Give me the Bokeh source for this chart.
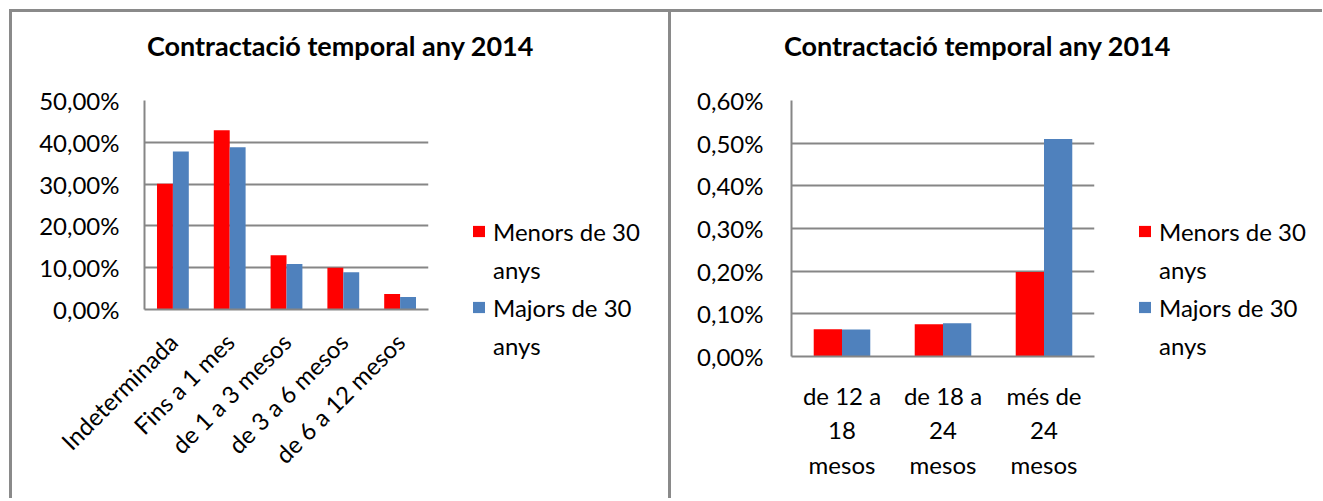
import math
from bokeh.plotting import figure
from bokeh.layouts import row, column
from bokeh.models import (ColumnDataSource, FactorRange, Range1d, Legend, LegendItem,
                          FixedTicker, Label)
from bokeh.transform import dodge
from bokeh.embed import file_html
from bokeh.resources import INLINE

TITLE = "Contractació temporal any 2014"
SERIES = ["Menors de 30", "Majors de 30"]
SERIES_2ND_LINE = "anys"

cats_left = ["Indeterminada", "Fins a 1 mes", "de 1 a 3 mesos", "de 3 a 6 mesos", "de 6 a 12 mesos"]
menors_left = [30.1, 42.9, 13.0, 10.0, 3.7]
majors_left = [37.8, 38.8, 10.9, 8.9, 3.0]
ticks_left = [0, 10, 20, 30, 40, 50]
tick_labels_left = ["0,00%", "10,00%", "20,00%", "30,00%", "40,00%", "50,00%"]

cats_right = ["de 12 a\n18\nmesos", "de 18 a\n24\nmesos", "més de\n24\nmesos"]
menors_right = [0.064, 0.0755, 0.198]
majors_right = [0.063, 0.078, 0.510]
ticks_right = [0, 0.1, 0.2, 0.3, 0.4, 0.5, 0.6]
tick_labels_right = ["0,00%", "0,10%", "0,20%", "0,30%", "0,40%", "0,50%", "0,60%"]

RED = "#FF0000"
BLUE = "#4F81BD"
GRAY = "#868686"
FONT = "Lato"
FS = "24px"


def blank_fig(w, h):
    p = figure(width=w, height=h, x_range=Range1d(0, 1), y_range=Range1d(0, 1),
               x_axis_type=None, y_axis_type=None, min_border=0,
               output_backend="svg", toolbar_location=None)
    p.outline_line_color = None
    p.grid.visible = False
    p.background_fill_color = "white"
    p.border_fill_color = "white"
    p.frame_align = False
    return p


def make_panel(cats, a, b, ticks, labels, w, chart_w, h_title, h_chart, fw, fh, mbl, mbt,
               title_x, rotate, xstandoff, ystandoff, leg_y):
    # title strip
    pt = blank_fig(w, h_title)
    pt.add_layout(Label(x=title_x, y=25, x_units="screen", y_units="screen", text=TITLE,
                        text_align="center", text_baseline="alphabetic",
                        text_font=FONT, text_font_size="27px", text_font_style="bold",
                        text_color="black"))

    # chart
    src = ColumnDataSource(dict(cat=cats, idx=list(range(len(cats))), a=a, b=b))
    p = figure(x_range=FactorRange(*cats), y_range=Range1d(ticks[0], ticks[-1]),
               frame_width=fw, frame_height=fh,
               min_border_left=mbl, min_border_right=chart_w - mbl - fw,
               min_border_top=mbt, min_border_bottom=h_chart - mbt - fh,
               output_backend="svg", toolbar_location=None)
    p.frame_align = False
    p.outline_line_color = None
    p.background_fill_color = "white"
    p.border_fill_color = "white"
    p.vbar(x=dodge("cat", -0.14, range=p.x_range), top="a", width=0.28,
           source=src, fill_color=RED, line_color=None)
    p.vbar(x=dodge("cat", 0.14, range=p.x_range), top="b", width=0.28,
           source=src, fill_color=BLUE, line_color=None)
    p.xgrid.visible = False
    p.ygrid.grid_line_color = GRAY
    p.ygrid.grid_line_width = 2
    p.yaxis.ticker = FixedTicker(ticks=ticks)
    p.yaxis.major_label_overrides = dict(zip(ticks, labels))
    for ax in (p.xaxis[0], p.yaxis[0]):
        ax.axis_line_color = GRAY
        ax.axis_line_width = 2
        ax.major_tick_line_color = None
        ax.minor_tick_line_color = None
        ax.major_label_text_font = FONT
        ax.major_label_text_font_size = FS
        ax.major_label_text_color = "black"
        ax.major_label_text_line_height = 1.2
    p.yaxis.major_label_standoff = ystandoff
    p.xaxis.major_label_standoff = xstandoff
    if rotate:
        p.xaxis.major_label_orientation = math.pi / 4

    # legend strip (proxy glyphs use the same data, kept far outside this strip's view)
    pl = blank_fig(w - chart_w, h_chart)
    pl.y_range = Range1d(1000, 1001)
    g1 = pl.vbar(x="idx", top="a", width=0.5, source=src, fill_color=RED, line_color=None)
    g2 = pl.vbar(x="idx", top="b", width=0.5, source=src, fill_color=BLUE, line_color=None)
    gb = pl.vbar(x="idx", top="a", width=0.5, source=src, fill_alpha=0, line_alpha=0)
    leg = Legend(items=[LegendItem(label=SERIES[0], renderers=[g1]),
                        LegendItem(label=SERIES_2ND_LINE, renderers=[gb]),
                        LegendItem(label=SERIES[1], renderers=[g2]),
                        LegendItem(label=SERIES_2ND_LINE, renderers=[gb])],
                 location=(0, leg_y), padding=0, margin=0, spacing=8,
                 glyph_width=15, glyph_height=14, label_height=30, label_standoff=7,
                 label_text_font=FONT, label_text_font_size=FS,
                 label_text_color="black", label_text_baseline="middle",
                 border_line_color=None, background_fill_alpha=0)
    pl.add_layout(leg, "center")

    col = column(pt, row(p, pl))
    col.styles = {"border-top": "3px solid #8a8a8a", "border-left": "3px solid #8a8a8a"}
    return col


H_TITLE = 58
H_CHART = 428
c1 = make_panel(cats_left, menors_left, majors_left, ticks_left, tick_labels_left,
                656, 459, H_TITLE, H_CHART, 284, 209, 132, 30, 328, True, 22, 19, 138)
c2 = make_panel(cats_right, menors_right, majors_right, ticks_right, tick_labels_right,
                651, 466, H_TITLE, H_CHART, 303, 256, 120, 30, 306, False, 18, 22, 138)

layout = row(c1, c2)
layout.margin = (9, 0, 0, 9)
open("out.html", "w").write(file_html(layout, INLINE))
